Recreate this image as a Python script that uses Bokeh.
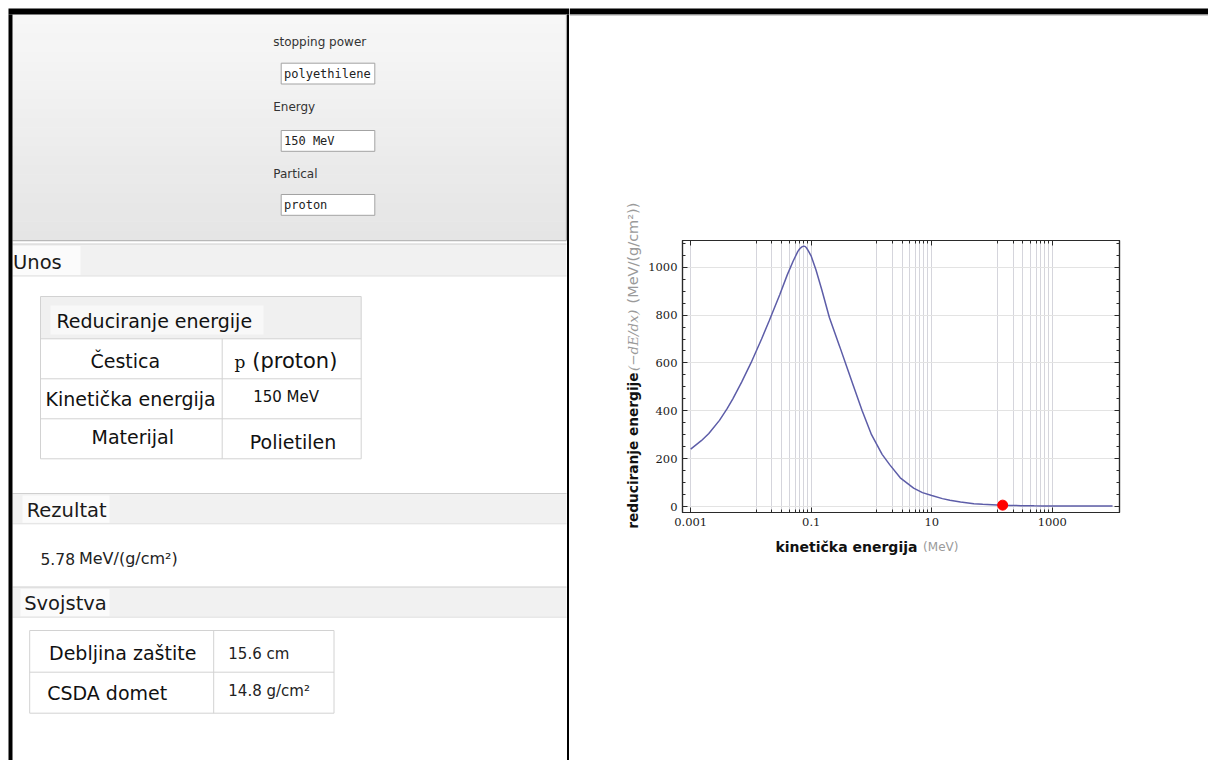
import math
from bokeh.plotting import figure
from bokeh.layouts import row, column
from bokeh.models import (Range1d, FixedTicker, LinearAxis, LogAxis,
                          CustomJSTickFormatter)
from bokeh.core.properties import value
from bokeh.embed import file_html
from bokeh.resources import INLINE

# ------------------------------------------------------------------ data
energy_mev = [0.001, 0.0015, 0.002, 0.003, 0.004, 0.005, 0.007, 0.01, 0.015,
              0.02, 0.03, 0.04, 0.05, 0.06, 0.065, 0.07, 0.075, 0.08, 0.085,
              0.09, 0.1, 0.12, 0.15, 0.2, 0.3, 0.4, 0.5, 0.7, 1, 1.5, 2, 3,
              5, 7, 10, 15, 20, 30, 50, 70, 100, 150, 200, 300, 500, 700,
              1000, 2000, 5000, 10000]
stopping_power = [240, 275, 305, 360, 408, 450, 520, 600, 700,
                  775, 885, 968, 1025, 1066, 1078, 1085, 1088, 1086, 1078,
                  1067, 1046, 988, 905, 790, 665, 575, 505, 400, 300, 218, 175, 120,
                  77, 58, 46, 33, 26, 18.5, 12, 9, 7.5, 5.78, 4.7, 3.6, 2.8, 2.5,
                  2.3, 2.1, 2.05, 2.1]
selected_energy = [150]
selected_power = [5.78]

x_major_ticks = [0.001, 0.1, 10, 1000]
x_grid_lines = [0.001,
                0.0123, 0.0223, 0.0325, 0.0435, 0.0538, 0.0634, 0.0738, 0.0859, 0.1,
                1.23, 2.23, 3.25, 4.35, 5.38, 6.34, 7.38, 8.59, 10,
                123, 223, 325, 435, 538, 634, 738, 859, 1000]
y_major_ticks = [0, 200, 400, 600, 800, 1000]
y_minor_ticks = [50, 100, 150, 250, 300, 350, 450, 500, 550, 650, 700, 750,
                 850, 900, 950, 1050, 1100]

y_title = "reduciranje energije"
y_title_symbol = "(−dE/dx)"
y_title_unit = "(MeV/(g/cm²))"
x_title = "kinetička energija"
x_title_unit = "(MeV)"

form_labels = ["stopping power", "Energy", "Partical"]
form_values = ["polyethilene", "150 MeV", "proton"]

section_titles = ["Unos", "Rezultat", "Svojstva"]
input_title = "Reduciranje energije"
input_names = ["Čestica", "Kinetička energija", "Materijal"]
input_values = ["(proton)", "150 MeV", "Polietilen"]
particle_symbol = "p"
result_number = "5.78"
result_unit = "MeV/(g/cm²)"
property_names = ["Debljina zaštite", "CSDA domet"]
property_values = ["15.6 cm", "14.8 g/cm²"]

SANS = "DejaVu Sans"
W, H = 1208, 760
SPLIT = 569


def canvas(x0, x1, y0, y1):
    """A plain figure whose data coordinates are page pixels."""
    f = figure(width=int(x1 - x0), height=int(y1 - y0),
               x_range=Range1d(x0, x1), y_range=Range1d(y1, y0),
               x_axis_type=None, y_axis_type=None, toolbar_location=None,
               output_backend="svg", min_border=0, title=None,
               frame_align=False, outline_line_color=None,
               background_fill_color="white", border_fill_color="white")
    return f


# ------------------------------------------------------------ left panel
lp = canvas(0, SPLIT, 0, H)

# form panel gradient
nb = 24
g_top, g_bot = 14.0, 239.5
bt, bb, cols = [], [], []
for i in range(nb):
    t = i / (nb - 1)
    c = int(round(247 - t * 18))
    bt.append(g_top + (g_bot - g_top) * i / nb)
    bb.append(g_top + (g_bot - g_top) * (i + 1) / nb + 0.5)
    cols.append("#%02x%02x%02x" % (c, c, c))
lp.quad(left=[12] * nb, right=[566] * nb, top=bt, bottom=bb, fill_color=cols,
        line_color=None)
lp.quad(left=[12], right=[566], top=[239.5], bottom=[240.8], fill_color="#b8b8b8",
        line_color=None)

# section headers
hdr_top = [243.5, 493.0, 586.5]
hdr_bot = [275.5, 523.3, 616.7]
lp.quad(left=[12] * 3, right=[566] * 3, top=hdr_top, bottom=hdr_bot,
        fill_color="#f1f1f1", line_color=None)
lp.quad(left=[12, 22, 20], right=[80, 109, 109],
        top=[h + 2 for h in hdr_top], bottom=[h - 1 for h in hdr_bot],
        fill_color="#fbfbfb", line_color=None)
lp.segment(x0=[12] * 6, x1=[566] * 6,
           y0=hdr_top + hdr_bot, y1=hdr_top + hdr_bot,
           line_color=["#cfcfcf"] * 3 + ["#e0e0e0"] * 3, line_width=1)

# input boxes
box_top = [62.7, 130.0, 194.0]
lp.quad(left=[280.7] * 3, right=[374.3] * 3, top=box_top,
        bottom=[b + 20.8 for b in box_top], fill_color="white",
        line_color="#a3a3a3", line_width=1)
lp.text(x=[272.7] * 3, y=[41.0, 106.7, 173.3], text=form_labels,
        text_font=value(SANS), text_font_size="12px", text_color="#333333",
        text_baseline="middle", text_align="left")
lp.text(x=[283.5] * 3, y=[b + 10.8 for b in box_top], text=form_values,
        text_font=value("DejaVu Sans Mono"), text_font_size="12px",
        text_color="#222222", text_baseline="middle", text_align="left")

# section titles
lp.text(x=[12.5, 26.2, 23.7], y=[261.7, 510.0, 603.3], text=section_titles,
        text_font=value(SANS), text_font_size="19.5px", text_color="#1a1a1a",
        text_baseline="middle", text_align="left")

# table 1 (Unos)
lp.quad(left=[40], right=[360.7], top=[296], bottom=[338.3],
        fill_color="#f0f0f0", line_color=None)
lp.quad(left=[50], right=[263], top=[305], bottom=[334],
        fill_color="#f8f8f8", line_color=None)
lp.quad(left=[40], right=[360.7], top=[296], bottom=[458.3], fill_color=None,
        line_color="#d2d2d2", line_width=1)
lp.segment(x0=[40, 40, 40, 221.7], x1=[360.7, 360.7, 360.7, 221.7],
           y0=[338.3, 378.3, 418.3, 338.3], y1=[338.3, 378.3, 418.3, 458.3],
           line_color="#d2d2d2", line_width=1)
lp.text(x=[56], y=[320], text=[input_title], text_font=value(SANS),
        text_font_size="19px", text_color="#111111", text_baseline="middle")
lp.text(x=[90, 45, 91], y=[360.7, 398.3, 436.7], text=input_names,
        text_font=value(SANS), text_font_size="19px", text_color="#111111",
        text_baseline="middle", text_align="left")
lp.text(x=[234], y=[361], text=[particle_symbol], text_font=value("DejaVu Serif"),
        text_font_size="17px", text_color="#111111", text_baseline="middle")
lp.text(x=[251.7, 252.7, 249.3], y=[360.0, 396.0, 441.7], text=input_values,
        text_font=value(SANS), text_font_size=["21px", "15px", "19px"],
        text_color="#111111", text_baseline="middle", text_align="left")

# result
lp.text(x=[40, 78.4], y=[558.3, 558.3], text=[result_number, result_unit],
        text_font=value(SANS), text_font_size=["15.5px", "16px"],
        text_color="#222222", text_baseline="middle", text_align="left")

# table 2 (Svojstva)
lp.quad(left=[29.2], right=[333.5], top=[630], bottom=[712.7], fill_color=None,
        line_color="#d2d2d2", line_width=1)
lp.segment(x0=[29.2, 213.2], x1=[333.5, 213.2], y0=[671.7, 630], y1=[671.7, 712.7],
           line_color="#d2d2d2", line_width=1)
lp.text(x=[48.5, 46.7], y=[652.7, 692.7], text=property_names,
        text_font=value(SANS), text_font_size="19px", text_color="#111111",
        text_baseline="middle", text_align="left")
lp.text(x=[227.8, 227.8], y=[653.3, 690.5], text=property_values,
        text_font=value(SANS), text_font_size="15px", text_color="#222222",
        text_baseline="middle", text_align="left")

# borders (top band, left edge, divider)
lp.quad(left=[8, 8, 566.5, 565.4], right=[SPLIT, 12, 568.7, 566.5],
        top=[8, 14, 14, 14], bottom=[14, H, H, 240],
        fill_color=["black", "black", "black", "#a9a9a9"], line_color=None)

# ------------------------------------------------------------ right side
TOP_H = 190            # strip above the chart
ROW_B = 536            # bottom of the chart row
YLAB_R = 644           # right edge of the y-title strip

top_strip = canvas(SPLIT, W, 0, TOP_H)
top_strip.quad(left=[SPLIT, SPLIT], right=[W, W], top=[8, 14], bottom=[14, 15],
               fill_color=["black", "#a0a0a0"], line_color=None)

ylab = canvas(SPLIT, YLAB_R, TOP_H, ROW_B)
ylab.text(x=[632.6], y=[528.3], text=[y_title], angle=math.pi / 2,
          text_font=value(SANS), text_font_size="13.7px", text_font_style="bold",
          text_color="#111111", text_align="left", text_baseline="middle")
ylab.text(x=[632.6], y=[370.5], text=[y_title_symbol], angle=math.pi / 2,
          text_font=value("DejaVu Serif"), text_font_size="13.5px",
          text_font_style="italic", text_color="#9a9a9a", text_align="left",
          text_baseline="middle")
ylab.text(x=[632.6], y=[303.0], text=[y_title_unit], angle=math.pi / 2,
          text_font=value(SANS), text_font_size="14.5px", text_color="#9a9a9a",
          text_align="left", text_baseline="middle")

xlab = canvas(SPLIT, W, ROW_B, H)
xlab.text(x=[775.0], y=[546.7], text=[x_title], text_font=value(SANS),
          text_font_size="14px", text_font_style="bold", text_color="#111111",
          text_align="left", text_baseline="middle")
xlab.text(x=[922.6], y=[546.7], text=[x_title_unit], text_font=value(SANS),
          text_font_size="12px", text_color="#9a9a9a", text_align="left",
          text_baseline="middle")

# the chart itself: frame at page x 682..1119, y 240..512
p = figure(width=W - YLAB_R, height=ROW_B - TOP_H, x_axis_type="log",
           x_range=Range1d(7.31e-4, 13030), y_range=Range1d(-25, 1111.6),
           toolbar_location=None, output_backend="svg", title=None,
           frame_align=False,
           min_border_left=682 - YLAB_R, min_border_right=W - 1119,
           min_border_top=240 - TOP_H, min_border_bottom=ROW_B - 512,
           background_fill_color="white", border_fill_color="white",
           outline_line_color="#2a2a2a", outline_line_width=1.2)

p.xgrid.ticker = FixedTicker(ticks=x_grid_lines)
p.xgrid.grid_line_color = "#d5d5dc"
p.xgrid.grid_line_width = 1
p.ygrid.ticker = FixedTicker(ticks=y_major_ticks)
p.ygrid.grid_line_color = "#e3e3e3"
p.ygrid.grid_line_width = 1


def style_axis(ax):
    ax.axis_line_color = "#2a2a2a"
    ax.axis_line_width = 1.2
    ax.major_tick_in = 5
    ax.major_tick_out = 0
    ax.minor_tick_in = 3
    ax.minor_tick_out = 0
    ax.major_tick_line_color = "#2a2a2a"
    ax.minor_tick_line_color = "#2a2a2a"
    ax.major_label_text_font = "DejaVu Serif"
    ax.major_label_text_font_size = "11.5px"
    ax.major_label_text_color = "#1a1a1a"
    ax.major_label_standoff = 5


bottom_ax = p.below[0]
bottom_ax.ticker = FixedTicker(ticks=x_major_ticks, minor_ticks=x_grid_lines)
bottom_ax.formatter = CustomJSTickFormatter(code="return String(tick)")
style_axis(bottom_ax)

left_ax = p.left[0]
left_ax.ticker = FixedTicker(ticks=y_major_ticks, minor_ticks=y_minor_ticks)
style_axis(left_ax)

top_ax = LogAxis(ticker=FixedTicker(ticks=x_major_ticks, minor_ticks=x_grid_lines),
                 formatter=CustomJSTickFormatter(code="return ''"))
style_axis(top_ax)
p.add_layout(top_ax, "above")

right_ax = LinearAxis(ticker=FixedTicker(ticks=y_major_ticks, minor_ticks=y_minor_ticks),
                      formatter=CustomJSTickFormatter(code="return ''"))
style_axis(right_ax)
p.add_layout(right_ax, "right")

p.line(energy_mev, stopping_power, line_color="#5d5da8", line_width=1.5)
p.scatter(selected_energy, selected_power, size=10, fill_color="#ff0000",
          line_color="#ff0000")

layout = row(lp, column(top_strip, row(ylab, p), xlab))
with open("out.html", "w") as f:
    f.write(file_html(layout, INLINE, title="stopping power"))
